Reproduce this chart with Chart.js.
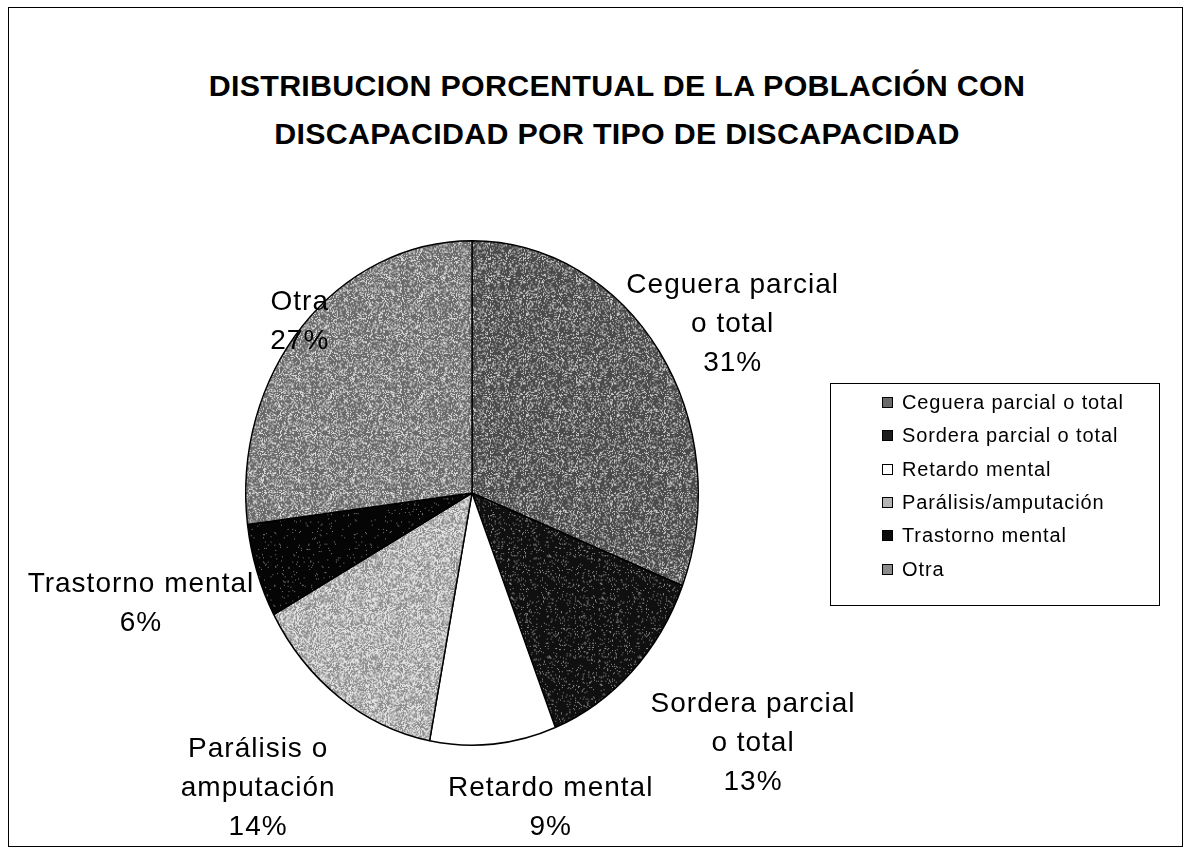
<!DOCTYPE html>
<html><head><meta charset="utf-8">
<script src="https://cdn.jsdelivr.net/npm/chart.js@4/dist/chart.umd.min.js"></script>
<style>
html,body{margin:0;padding:0;background:#fff;}
#wrap{position:relative;width:1190px;height:850px;overflow:hidden;font-family:"Liberation Sans",Arial,sans-serif;}
#frame{position:absolute;left:8px;top:7px;width:1175px;height:840px;border:1.5px solid #000;box-sizing:border-box;}
#title{position:absolute;left:0;width:1234px;top:61px;text-align:center;font-weight:bold;font-size:30.4px;line-height:48px;color:#000;letter-spacing:0.3px;}
canvas{position:absolute;left:0;top:0;}
#legend{position:absolute;left:830px;top:383px;width:330px;height:223px;border:1.5px solid #000;box-sizing:border-box;padding-top:2px;}
.li{height:33.3px;display:flex;align-items:center;padding-left:51px;font-size:20px;letter-spacing:0.9px;color:#000;}
.sw{width:11px;height:11px;border:1px solid #000;margin-right:9px;box-sizing:border-box;flex:none;}
</style></head>
<body><div id="wrap">
<div id="frame"></div>
<div id="title">DISTRIBUCION PORCENTUAL DE LA POBLACIÓN CON<br>DISCAPACIDAD POR TIPO DE DISCAPACIDAD</div>
<canvas id="c" width="1190" height="850"></canvas>
<div id="legend"></div>
</div>
<script>
const categories = ["Ceguera parcial o total","Sordera parcial o total","Retardo mental","Parálisis/amputación","Trastorno mental","Otra"];
const sliceLabels = [["Ceguera parcial","o total"],["Sordera parcial","o total"],["Retardo mental"],["Parálisis o","amputación"],["Trastorno mental"],["Otra"]];
const values = [31,13,9,14,6,27];

// style config (not data)
const swatchColors = ["#6a6a6a","#1c1c1c","#ffffff","#b4b4b4","#0c0c0c","#8b8b8b"];
const textures = [
  {bg:"#4a4a4a",fg:"#c8c8c8",p:0.25},
  {bg:"#101010",fg:"#909090",p:0.08},
  null,
  {bg:"#8e8e8e",fg:"#e2e2e2",p:0.48},
  {bg:"#050505",fg:"#808080",p:0.03},
  {bg:"#6a6a6a",fg:"#dadada",p:0.30}
];
const labelDist = [1.27,1.5,1.3,1.48,1.45,1.05];
const labelNudge = [[23,11],[41,-17],[51,-12],[-17,-7],[-19,-2],[6,4]];
const SX = 227/240, SY = 253/240;

function hash(x,y,s){const v=Math.sin(x*12.9898+y*78.233+s*37.719)*43758.5453;return v-Math.floor(v);}
function makePattern(t,idx){
  if(!t) return '#ffffff';
  const c=document.createElement('canvas');c.width=c.height=96;
  const g=c.getContext('2d');
  g.fillStyle=t.bg;g.fillRect(0,0,96,96);
  g.fillStyle=t.fg;
  for(let y=0;y<96;y++)for(let x=0;x<96;x++){if(hash(x,y,idx)<t.p)g.fillRect(x,y,1,1);}
  return document.getElementById('c').getContext('2d').createPattern(c,'repeat');
}
const fills = textures.map((t,i)=>makePattern(t,i+1));

const leg = document.getElementById('legend');
categories.forEach((c,i)=>{
  const d=document.createElement('div');d.className='li';
  d.innerHTML='<span class="sw" style="background:'+swatchColors[i]+'"></span>'+c;
  leg.appendChild(d);
});

const shapePlugin = {
  id:'shape',
  beforeDatasetsDraw(chart){
    const ctx=chart.ctx, a=chart.chartArea;
    const cx=(a.left+a.right)/2, cy=(a.top+a.bottom)/2;
    ctx.save();ctx.translate(cx,cy);ctx.scale(SX,SY);ctx.translate(-cx,-cy);
  },
  afterDatasetsDraw(chart){
    const ctx=chart.ctx;
    ctx.restore();
    const meta=chart.getDatasetMeta(0);
    const total=values.reduce((a,b)=>a+b,0);
    ctx.save();
    ctx.font='28px "Liberation Sans", Arial, sans-serif';
    if('letterSpacing' in ctx) ctx.letterSpacing='1px';
    ctx.fillStyle='#000';ctx.textAlign='center';ctx.textBaseline='middle';
    meta.data.forEach((arc,i)=>{
      const p=arc.getProps(['x','y','startAngle','endAngle','outerRadius'],true);
      const mid=(p.startAngle+p.endAngle)/2;
      const r=p.outerRadius*labelDist[i];
      const cx=p.x+Math.cos(mid)*r*SX+labelNudge[i][0], cy=p.y+Math.sin(mid)*r*SY+labelNudge[i][1];
      const lines=sliceLabels[i].concat([Math.round(values[i]/total*100)+'%']);
      const lh=39;
      lines.forEach((t,k)=>{ctx.fillText(t,cx,cy+(k-(lines.length-1)/2)*lh);});
    });
    ctx.restore();
  }
};

new Chart(document.getElementById('c'),{
  type:'pie',
  data:{labels:categories,datasets:[{data:values,backgroundColor:fills,borderColor:'#000',borderWidth:1.5}]},
  options:{
    responsive:false,animation:false,
    layout:{padding:{left:232,right:478,top:253,bottom:117}},
    plugins:{legend:{display:false},tooltip:{enabled:false},title:{display:false}}
  },
  plugins:[shapePlugin]
});
</script>
</body></html>
